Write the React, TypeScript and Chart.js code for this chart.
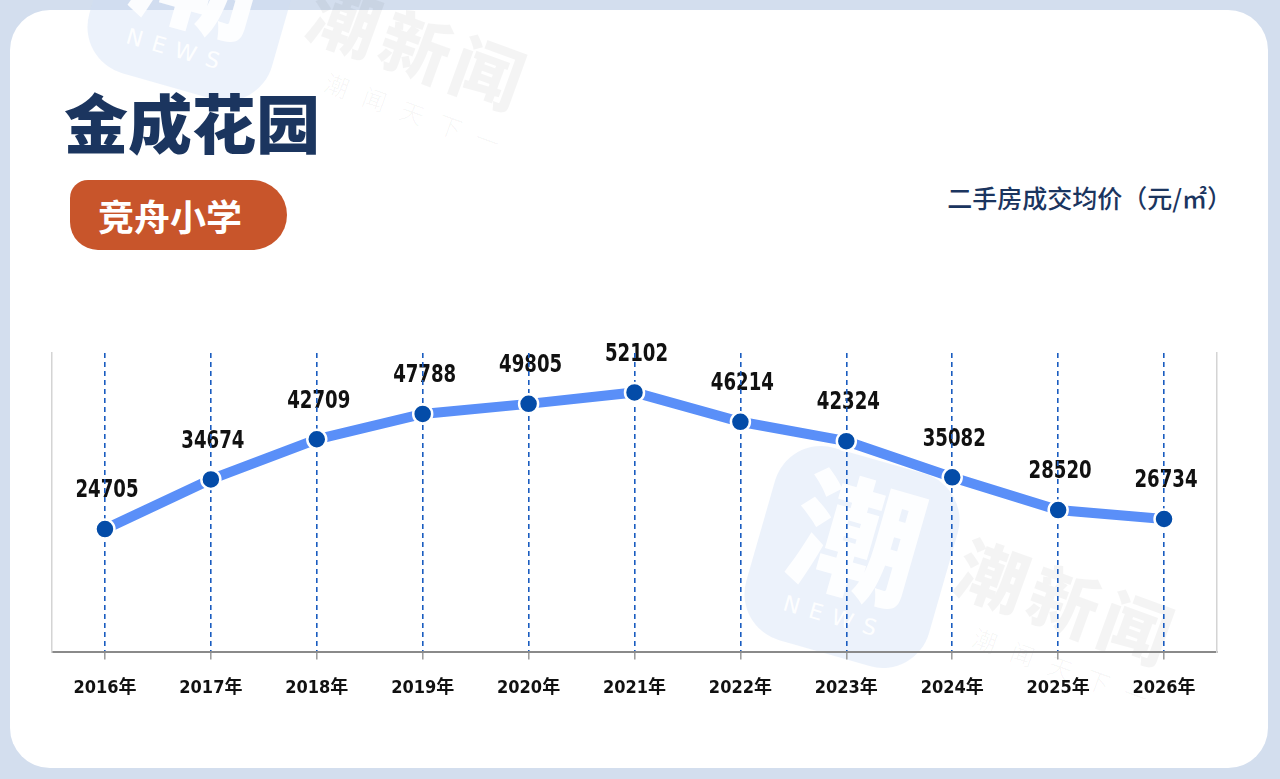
import React, { useEffect, useRef } from "react";
import { Chart, registerables } from "chart.js";

Chart.register(...registerables);

const categories = ["2016年", "2017年", "2018年", "2019年", "2020年", "2021年", "2022年", "2023年", "2024年", "2025年", "2026年"];
const prices = [24705, 34674, 42709, 47788, 49805, 52102, 46214, 42324, 35082, 28520, 26734];
const yMin = 0;
const yMax = 60000;

const titleText = "金成花园";
const badgeText = "竞舟小学";
const unitText = "二手房成交均价（元/㎡）";

const NUM_FONT = '"Liberation Sans Narrow", "DejaVu Sans Condensed", "Noto Sans CJK SC", sans-serif';
const CJK_FONT = '"Noto Sans CJK SC", "Noto Sans", sans-serif';

const labelPlugin = {
  id: "valueLabels",
  beforeDraw(chart: any) {
    const ctx = chart.ctx;
    const meta = chart.getDatasetMeta(0);
    const data = chart.data.datasets[0].data;
    meta.data.forEach((pt: any, i: number) => {
      ctx.save();
      ctx.translate(pt.x + 2, pt.y - 38);
      ctx.scale(0.84, 1);
      ctx.font = `bold 24px ${NUM_FONT}`;
      ctx.fillStyle = "#111111";
      ctx.textAlign = "center";
      ctx.textBaseline = "middle";
      ctx.fillText(String(data[i]), 0, 0);
      ctx.restore();
    });
  },
};

function Watermark({ cx, cy }: { cx: number; cy: number }) {
  return (
    <div
      style={{
        position: "absolute",
        left: cx - 95,
        top: cy - 100,
        width: 190,
        height: 200,
        borderRadius: 48,
        background: "rgba(205,220,245,0.38)",
        transform: "rotate(16deg)",
        overflow: "hidden",
      }}
    >
      <div
        style={{
          position: "absolute",
          left: 20,
          top: 8,
          width: 150,
          textAlign: "center",
          fontFamily: CJK_FONT,
          fontWeight: 900,
          fontSize: 130,
          lineHeight: 1,
          color: "rgba(255,255,255,0.9)",
        }}
      >
        潮
      </div>
      <div
        style={{
          position: "absolute",
          left: 0,
          top: 150,
          width: 190,
          textAlign: "center",
          fontFamily: '"DejaVu Sans", sans-serif',
          fontSize: 22,
          letterSpacing: 10,
          color: "rgba(255,255,255,0.95)",
        }}
      >
        NEWS
      </div>
    </div>
  );
}

function WaterText({ cx, cy }: { cx: number; cy: number }) {
  return (
    <>
      <div
        style={{
          position: "absolute",
          left: cx - 150,
          top: cy - 45,
          width: 300,
          textAlign: "center",
          fontFamily: CJK_FONT,
          fontWeight: 900,
          fontSize: 70,
          lineHeight: "90px",
          letterSpacing: 6,
          color: "rgba(0,0,0,0.045)",
          transform: "rotate(20deg)",
          whiteSpace: "nowrap",
        }}
      >
        潮新闻
      </div>
      <div
        style={{
          position: "absolute",
          left: cx - 120,
          top: cy + 55,
          width: 240,
          textAlign: "center",
          fontFamily: CJK_FONT,
          fontWeight: 300,
          fontSize: 24,
          lineHeight: "30px",
          letterSpacing: 16,
          color: "rgba(0,0,0,0.05)",
          transform: "rotate(20deg)",
          whiteSpace: "nowrap",
        }}
      >
        潮闻天下一
      </div>
    </>
  );
}

export default function App() {
  const canvasRef = useRef<HTMLCanvasElement | null>(null);

  useEffect(() => {
    document.body.style.margin = "0";
    const canvas = canvasRef.current;
    if (!canvas) return;
    const chart = new Chart(canvas, {
      type: "line",
      data: {
        labels: categories,
        datasets: [
          {
            data: prices,
            borderColor: "#5a8ff8",
            borderWidth: 10,
            tension: 0,
            pointRadius: 9.5,
            pointHoverRadius: 9.5,
            pointBackgroundColor: "#044ca8",
            pointBorderColor: "#ffffff",
            pointBorderWidth: 2.5,
            fill: false,
          },
        ],
      },
      options: {
        animation: false,
        responsive: false,
        maintainAspectRatio: false,
        events: [],
        layout: { padding: { left: 52, right: 63, top: 353, bottom: 62 } },
        plugins: { legend: { display: false }, tooltip: { enabled: false } },
        scales: {
          x: {
            offset: true,
            grid: {
              display: true,
              color: "#1a5cc0",
              lineWidth: 1.6,
              drawTicks: true,
              tickLength: 7,
              tickColor: "#999999",
              tickWidth: 1.5,
              offset: false,
            },
            border: { display: true, color: "#8a8a8a", width: 2, dash: [5, 4] },
            ticks: {
              color: "#111111",
              padding: 18,
              font: { family: NUM_FONT, size: 18, weight: "bold" as any },
            },
          },
          y: {
            min: yMin,
            max: yMax,
            position: "left",
            grid: { display: false, drawTicks: false },
            border: { display: true, color: "#d4d4d4", width: 1.5 },
            ticks: { display: false },
          },
          y2: {
            min: yMin,
            max: yMax,
            position: "right",
            grid: { display: false, drawTicks: false },
            border: { display: true, color: "#d4d4d4", width: 1.5 },
            ticks: { display: false },
          },
        },
      },
      plugins: [labelPlugin],
    });
    return () => chart.destroy();
  }, []);

  return (
    <div
      style={{
        position: "relative",
        width: 1280,
        height: 779,
        overflow: "hidden",
        background: "#d3deee",
      }}
    >
      <div
        style={{
          position: "absolute",
          left: 10,
          top: 10,
          width: 1258,
          height: 758,
          borderRadius: 40,
          background: "#ffffff",
        }}
      />
      <Watermark cx={195} cy={-10} />
      <WaterText cx={420} cy={45} />
      <Watermark cx={852} cy={557} />
      <WaterText cx={1068} cy={600} />
      <div
        style={{
          position: "absolute",
          left: 64,
          top: 88,
          fontFamily: CJK_FONT,
          fontWeight: 900,
          fontSize: 64,
          lineHeight: 1,
          color: "#1b355f",
          whiteSpace: "nowrap",
        }}
      >
        {titleText}
      </div>
      <div
        style={{
          position: "absolute",
          left: 70,
          top: 180,
          width: 217,
          height: 70,
          borderRadius: "18px 35px 35px 28px",
          background: "#c8552b",
          color: "#ffffff",
          fontFamily: CJK_FONT,
          fontWeight: 700,
          fontSize: 36,
          lineHeight: "70px",
          paddingLeft: 28,
          boxSizing: "border-box",
          whiteSpace: "nowrap",
        }}
      >
        {badgeText}
      </div>
      <div
        style={{
          position: "absolute",
          right: 48,
          top: 181,
          fontFamily: CJK_FONT,
          fontWeight: 500,
          fontSize: 25,
          lineHeight: "32px",
          color: "#1b355f",
          whiteSpace: "nowrap",
        }}
      >
        {unitText}
      </div>
      <canvas
        ref={canvasRef}
        width={1280}
        height={779}
        style={{ position: "absolute", left: 0, top: 0, width: 1280, height: 779 }}
      />
    </div>
  );
}
